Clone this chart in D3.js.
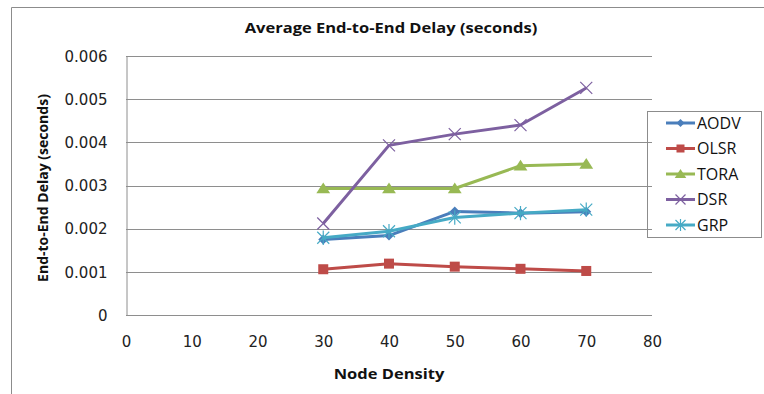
<!DOCTYPE html>
<html>
<head>
<meta charset="utf-8">
<script src="https://cdn.jsdelivr.net/npm/d3@7"></script>
<style>
  body { margin: 0; background: #fff; }
  svg { display: block; font-family: "Open Sans", "DejaVu Sans", sans-serif; }
</style>
</head>
<body>
<div id="chart"></div>
<script>
// chart data
var nodeDensity = [30, 40, 50, 60, 70];
var aodv = [0.00175, 0.00184, 0.00240, 0.00236, 0.00239];
var olsr = [0.00106, 0.00119, 0.00112, 0.00107, 0.00102];
var tora = [0.00293, 0.00293, 0.00293, 0.00346, 0.00350];
var dsr = [0.00212, 0.00393, 0.00419, 0.00440, 0.00526];
var grp = [0.00179, 0.00194, 0.00226, 0.00236, 0.00244];
var seriesNames = ['AODV', 'OLSR', 'TORA', 'DSR', 'GRP'];
var xTicks = [0, 10, 20, 30, 40, 50, 60, 70, 80];
var yTicks = [0, 0.001, 0.002, 0.003, 0.004, 0.005, 0.006];

var series = [
    { name: seriesNames[0], values: aodv, color: '#4a7ebb', marker: 'diamond' },
    { name: seriesNames[1], values: olsr, color: '#be4b48', marker: 'square' },
    { name: seriesNames[2], values: tora, color: '#98b954', marker: 'triangle' },
    { name: seriesNames[3], values: dsr, color: '#7d60a0', marker: 'cross' },
    { name: seriesNames[4], values: grp, color: '#46aac5', marker: 'star' }
];

var width = 764, height = 394;
var plot = { left: 126, right: 652, top: 56, bottom: 315 };

var svg = d3.select('#chart').append('svg')
    .attr('width', width)
    .attr('height', height);

// outer chart frame (cropped at right and bottom)
svg.append('path')
    .attr('d', 'M11.5,' + height + 'V7.5H' + width)
    .attr('fill', 'none')
    .attr('stroke', '#8c8c8c')
    .attr('stroke-width', 1);

var x = d3.scaleLinear().domain([0, 80]).range([plot.left, plot.right]);
var y = d3.scaleLinear().domain([0, 0.006]).range([plot.bottom, plot.top]);

// gridlines
svg.append('g')
    .selectAll('line')
    .data(yTicks)
    .enter().append('line')
    .attr('x1', plot.left)
    .attr('x2', plot.right)
    .attr('y1', function (d) { return Math.round(y(d)) + 0.5; })
    .attr('y2', function (d) { return Math.round(y(d)) + 0.5; })
    .attr('stroke', '#8e8e8e')
    .attr('stroke-width', 1);

// y axis
var yAxis = svg.append('g')
    .attr('transform', 'translate(' + (plot.left + 0.5) + ',0.5)')
    .call(d3.axisLeft(y).tickValues(yTicks).tickSize(0).tickPadding(19)
        .tickFormat(function (d) { return d === 0 ? '0' : d3.format('.3f')(d); }));
yAxis.select('.domain').attr('stroke', '#8e8e8e');
yAxis.selectAll('text')
    .attr('font-family', '"DejaVu Sans", sans-serif')
    .attr('font-size', 15)
    .attr('fill', '#222');

// x axis
var xAxis = svg.append('g')
    .attr('transform', 'translate(0,' + (plot.bottom + 0.5) + ')')
    .call(d3.axisBottom(x).tickValues(xTicks).tickSize(0).tickPadding(21));
xAxis.select('.domain').remove();
xAxis.selectAll('text')
    .attr('font-family', '"DejaVu Sans", sans-serif')
    .attr('font-size', 15)
    .attr('fill', '#222');

// titles (source font is a bit wide, so stretch horizontally)
svg.append('text')
    .attr('transform', 'translate(391,33) scale(1.18,1)')
    .attr('text-anchor', 'middle')
    .attr('font-size', 14)
    .attr('font-weight', 'bold')
    .attr('fill', '#111')
    .text('Average End-to-End Delay (seconds)');

svg.append('text')
    .attr('transform', 'translate(389,379) scale(1.1,1)')
    .attr('text-anchor', 'middle')
    .attr('font-size', 15)
    .attr('font-weight', 'bold')
    .attr('fill', '#111')
    .text('Node Density');

svg.append('text')
    .attr('transform', 'translate(48,188) rotate(-90)')
    .attr('text-anchor', 'middle')
    .attr('font-size', 14)
    .attr('font-weight', 'bold')
    .attr('fill', '#111')
    .text('End-to-End Delay (seconds)');

// marker drawing
function drawMarker(g, type, color, s) {
    if (type === 'diamond') {
        g.append('path')
            .attr('d', 'M0,' + (-s) + 'L' + s + ',0L0,' + s + 'L' + (-s) + ',0Z')
            .attr('fill', color);
    } else if (type === 'square') {
        g.append('rect')
            .attr('x', -s).attr('y', -s)
            .attr('width', 2 * s).attr('height', 2 * s)
            .attr('fill', color);
    } else if (type === 'triangle') {
        g.append('path')
            .attr('d', 'M0,' + (-s) + 'L' + (s * 1.15) + ',' + (s * 0.8) + 'L' + (-s * 1.15) + ',' + (s * 0.8) + 'Z')
            .attr('fill', color);
    } else if (type === 'cross') {
        g.append('path')
            .attr('d', 'M' + (-s) + ',' + (-s) + 'L' + s + ',' + s + 'M' + (-s) + ',' + s + 'L' + s + ',' + (-s))
            .attr('stroke', color).attr('stroke-width', 1.2).attr('fill', 'none');
    } else if (type === 'star') {
        g.append('path')
            .attr('d', 'M' + (-s) + ',' + (-s) + 'L' + s + ',' + s + 'M' + (-s) + ',' + s + 'L' + s + ',' + (-s) +
                'M0,' + (-s * 1.2) + 'V' + (s * 1.2))
            .attr('stroke', color).attr('stroke-width', 1.2).attr('fill', 'none');
    }
}

var line = d3.line()
    .x(function (d) { return x(d[0]); })
    .y(function (d) { return y(d[1]); });

var markerSize = { diamond: 5, square: 5, triangle: 6, cross: 6, star: 6 };

series.forEach(function (s) {
    var pts = nodeDensity.map(function (n, i) { return [n, s.values[i]]; });
    var g = svg.append('g').attr('class', 'series');
    g.append('path')
        .datum(pts)
        .attr('d', line)
        .attr('fill', 'none')
        .attr('stroke', s.color)
        .attr('stroke-width', 3)
        .attr('stroke-linejoin', 'round');
    pts.forEach(function (p) {
        var m = g.append('g').attr('transform', 'translate(' + x(p[0]) + ',' + y(p[1]) + ')');
        drawMarker(m, s.marker, s.color, markerSize[s.marker]);
    });
});

// legend
var legend = svg.append('g').attr('transform', 'translate(647,111)');
legend.append('rect')
    .attr('x', 0.5).attr('y', 0.5)
    .attr('width', 114).attr('height', 126)
    .attr('fill', 'none')
    .attr('stroke', '#8c8c8c');

var item = legend.selectAll('.item')
    .data(series)
    .enter().append('g')
    .attr('class', 'item')
    .attr('transform', function (d, i) { return 'translate(0,' + (12 + i * 25.5) + ')'; });
item.append('line')
    .attr('x1', 19).attr('x2', 48)
    .attr('stroke', function (d) { return d.color; })
    .attr('stroke-width', 3);
item.each(function (d) {
    var m = d3.select(this).append('g').attr('transform', 'translate(33.5,0)');
    drawMarker(m, d.marker, d.color, markerSize[d.marker] - 1);
});
item.append('text')
    .attr('x', 50)
    .attr('y', 0)
    .attr('dy', '0.35em')
    .attr('font-size', 16)
    .attr('fill', '#111')
    .text(function (d) { return d.name; });
</script>
</body>
</html>
